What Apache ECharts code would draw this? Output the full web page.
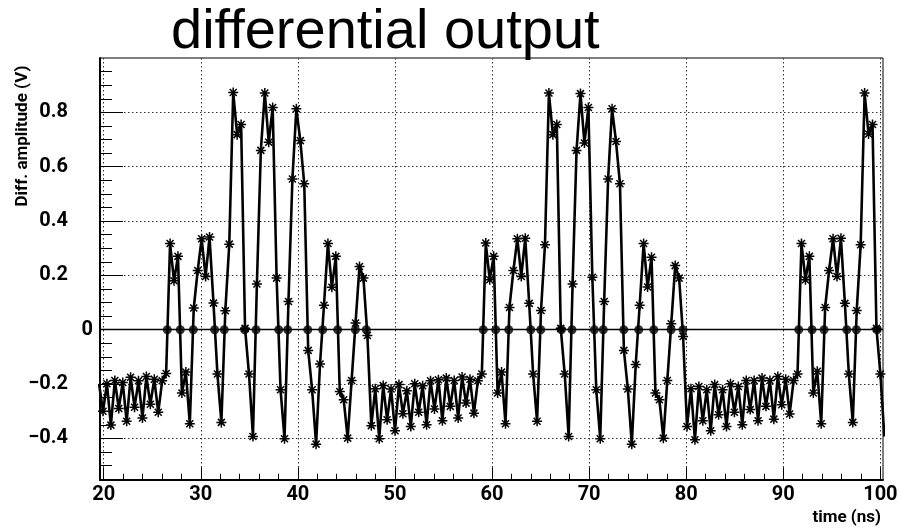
<!DOCTYPE html>
<html>
<head>
<meta charset="utf-8">
<title>differential output</title>
<script src="https://cdn.jsdelivr.net/npm/echarts@6/dist/echarts.min.js"></script>
<style>
    html, body { margin: 0; padding: 0; background: #fff; }
    #chart { width: 901px; height: 529px; }
</style>
</head>
<body>
<div id="chart"></div>
<script>
// sample clock of the waveform (ns)
const t0 = 19.5215;
const dt = 0.40647;

// amplitude samples (V)
const lead = [-0.199,
    -0.300, -0.199, -0.351, -0.187, -0.290, -0.194, -0.337, -0.175, -0.285, -0.188,
    -0.325, -0.172, -0.274, -0.182, -0.304, -0.188, -0.161];
const burst1 = [
    0.317, 0.180, 0.270, -0.233, -0.156, -0.346, 0.080, 0.218, 0.335, 0.196,
    0.341, 0.098, -0.163, -0.341, 0.070, 0.315, 0.873, 0.718, 0.755, 0.005,
    -0.163, -0.393, 0.168, 0.660, 0.871, 0.690, 0.818, 0.190, -0.221, -0.401,
    0.104, 0.555, 0.813, 0.696, 0.537, -0.076, -0.221, -0.421, -0.126, 0.090,
    0.317, 0.156, 0.270, -0.227, -0.258, -0.399, -0.187, 0.025, 0.233, 0.190,
    -0.021, -0.353, -0.217, -0.401, -0.205, -0.331, -0.218, -0.372, -0.202, -0.309,
    -0.225, -0.356, -0.199, -0.304, -0.206, -0.350, -0.188, -0.292, -0.184, -0.335,
    -0.178, -0.282, -0.187, -0.325, -0.174, -0.270, -0.182, -0.307, -0.188, -0.163];
const burst2 = [
    0.319, 0.184, 0.270, -0.233, -0.156, -0.346, 0.082, 0.218, 0.335, 0.196,
    0.337, 0.097, -0.163, -0.337, 0.071, 0.313, 0.871, 0.718, 0.755, 0.005,
    -0.163, -0.393, 0.168, 0.660, 0.869, 0.687, 0.818, 0.193, -0.221, -0.401,
    0.104, 0.555, 0.813, 0.693, 0.537, -0.076, -0.218, -0.421, -0.128, 0.090,
    0.317, 0.157, 0.267, -0.233, -0.258, -0.399, -0.187, 0.022, 0.236, 0.190,
    -0.025, -0.356, -0.217, -0.405, -0.209, -0.335, -0.221, -0.372, -0.202, -0.313,
    -0.221, -0.356, -0.199, -0.304, -0.209, -0.350, -0.187, -0.294, -0.187, -0.335,
    -0.178, -0.282, -0.187, -0.329, -0.172, -0.276, -0.182, -0.310, -0.187, -0.163];
const burst3 = [
    0.317, 0.184, 0.270, -0.233, -0.153, -0.346, 0.082, 0.218, 0.335, 0.196,
    0.337, 0.097, -0.163, -0.341, 0.071, 0.313, 0.871, 0.720, 0.755, 0.005,
    -0.163, -0.393];

// zero crossings (ns), drawn as dots on the baseline
const cross1 = [26.55, 27.89, 29.23, 31.43, 32.42, 34.52, 35.69, 38.03, 38.95, 41.02, 42.56, 44.10, 45.92, 47.05];
const cross2 = [59.10, 60.38, 61.72, 63.99, 65.02, 67.14, 68.24, 70.54, 71.46, 73.57, 75.11, 76.66, 78.44, 79.67];
const cross3 = [91.59, 92.96, 94.20, 96.54, 97.53, 99.66];

// axis ticks
const xTicks = [20, 30, 40, 50, 60, 70, 80, 90, 100];
const xMinor = [22, 24, 26, 28, 32, 34, 36, 38, 42, 44, 46, 48, 52, 54, 56, 58,
    62, 64, 66, 68, 72, 74, 76, 78, 82, 84, 86, 88, 92, 94, 96, 98];
const yTicks = [-0.4, -0.2, 0, 0.2, 0.4, 0.6, 0.8];
const yLabels = [-0.4, -0.2, 0.2, 0.4, 0.6, 0.8];
const yZeroLabel = [0];
const yMinor = [-0.5, -0.45, -0.35, -0.3, -0.25, -0.15, -0.1, -0.05, 0.05, 0.1, 0.15,
    0.25, 0.3, 0.35, 0.45, 0.5, 0.55, 0.65, 0.7, 0.75, 0.85, 0.9, 0.95];

const xMin = 19.62, xMax = 100.27;
const yMin = -0.553, yMax = 1.0;

const amp = lead.concat(burst1, burst2, burst3);
const crossings = cross1.concat(cross2, cross3);

const labelFont = 'Roboto, "Liberation Sans", sans-serif';
const dotted = { type: [1.5, 2.5], color: '#333', width: 1 };
const star = 'path://M0,-10L0,10M-10,0L10,0M-7,-7L7,7M-7,7L7,-7';
const fmtY = v => v === 0 ? '0' : (v < 0 ? '\u2212' : '') + Math.abs(v).toFixed(1);

let chart = echarts.init(document.getElementById('chart'));
chart.setOption({
    animation: false,
    title: {
        text: 'differential output',
        left: 166,
        top: 0,
        textStyle: { fontFamily: 'Liberation Sans', fontWeight: 'normal', fontSize: 56, color: '#000' }
    },
    grid: {
        left: 100, top: 58, width: 783, height: 422,
        show: true, borderColor: '#000', borderWidth: 1
    },
    graphic: [
        {
            type: 'text', x: 23, y: 136, rotation: Math.PI / 2,
            style: {
                text: 'Diff. amplitude (V)', fill: '#000',
                font: 'bold 17px ' + labelFont, align: 'center', verticalAlign: 'middle'
            }
        },
        {
            type: 'text', x: 881, y: 518,
            style: {
                text: 'time (ns)', fill: '#000',
                font: 'bold 17px ' + labelFont, align: 'right', verticalAlign: 'middle'
            }
        }
    ],
    xAxis: [
        {
            type: 'value', min: xMin, max: xMax, position: 'bottom',
            axisLine: { show: true, onZero: false, lineStyle: { color: '#000', width: 2 } },
            axisTick: { inside: true, length: 12.7, customValues: xTicks, lineStyle: { color: '#000', width: 1 } },
            axisLabel: {
                customValues: xTicks, margin: 5, color: '#000',
                fontFamily: labelFont, fontWeight: 'bold', fontSize: 20
            },
            splitLine: { show: true, lineStyle: dotted }
        },
        {
            type: 'value', min: xMin, max: xMax, position: 'bottom',
            axisLine: { show: false, onZero: false },
            axisTick: { inside: true, length: 6.3, customValues: xMinor, lineStyle: { color: '#000', width: 1 } },
            axisLabel: { show: false },
            splitLine: { show: false }
        }
    ],
    yAxis: [
        {
            type: 'value', min: yMin, max: yMax, position: 'left',
            minInterval: 0.2, maxInterval: 0.2,
            axisLine: { show: true, onZero: false, lineStyle: { color: '#000', width: 2 } },
            axisTick: { inside: true, length: 23, customValues: yTicks, lineStyle: { color: '#000', width: 1 } },
            axisLabel: {
                customValues: yLabels, margin: 32, color: '#000',
                fontFamily: labelFont, fontWeight: 'bold', fontSize: 20, formatter: fmtY
            },
            splitLine: { show: true, lineStyle: dotted }
        },
        {
            type: 'value', min: yMin, max: yMax, position: 'left',
            axisLine: { show: false, onZero: false },
            axisTick: { inside: true, length: 12, customValues: yMinor, lineStyle: { color: '#000', width: 1 } },
            axisLabel: {
                customValues: yZeroLabel, margin: 7, color: '#000',
                fontFamily: labelFont, fontWeight: 'bold', fontSize: 20, formatter: fmtY
            },
            splitLine: { show: false }
        }
    ],
    series: [
        {
            name: 'diff',
            type: 'line',
            xAxisIndex: 0, yAxisIndex: 0,
            data: amp.map((v, i) => [t0 + i * dt, v]),
            symbol: star,
            symbolSize: 10,
            showAllSymbol: true,
            clip: true,
            lineStyle: { color: '#000', width: 2.6 },
            itemStyle: { color: '#000', borderColor: '#000', borderWidth: 1.5 },
            z: 3
        },
        {
            name: 'zero',
            type: 'scatter',
            xAxisIndex: 0, yAxisIndex: 0,
            data: crossings.map(t => [t, 0]),
            symbol: 'circle',
            symbolSize: 9,
            itemStyle: { color: '#000' },
            z: 4,
            markLine: {
                silent: true,
                symbol: ['none', 'none'],
                label: { show: false },
                lineStyle: { color: '#000', width: 1.4, type: 'solid' },
                data: [{ yAxis: 0 }]
            }
        }
    ]
});
</script>
</body>
</html>
